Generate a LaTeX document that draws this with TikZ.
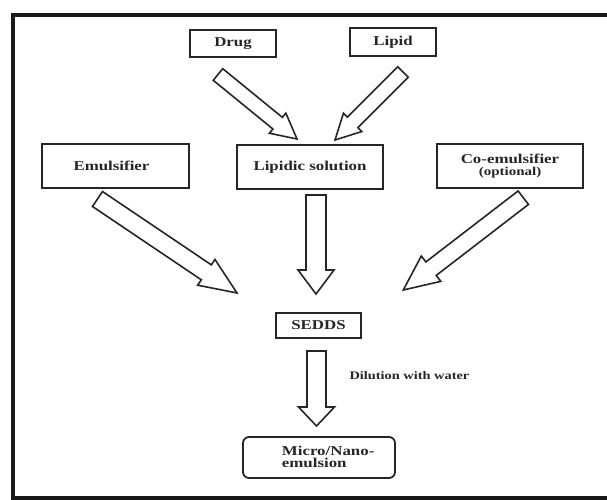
\documentclass[tikz,border=0pt]{standalone}
\usepackage{fontspec}
\setmainfont{Liberation Serif}[FakeStretch=1.25]
\usetikzlibrary{calc}

% hollow block arrow: tail, tip, shaft half-width, head half-width, head length
\newcommand{\blockarrow}[5]{%
  \coordinate (hb) at ($(#2)!#5!(#1)$);
  \draw[fatarrow] ($(#1)!#3!90:(#2)$) -- ($(hb)!#3!90:(#2)$) -- ($(hb)!#4!90:(#2)$)
    -- (#2) -- ($(hb)!#4!-90:(#2)$) -- ($(hb)!#3!-90:(#2)$) -- ($(#1)!#3!-90:(#2)$) -- cycle;
}

\begin{document}
\begin{tikzpicture}[x=1pt,y=-1pt,
  box/.style={draw=black!85, line width=1.8pt, rectangle, inner sep=0pt,
    font=\fontsize{13.5}{15}\selectfont\bfseries, text=black!85, align=center},
  fatarrow/.style={draw=black!85, line width=1.6pt, fill=white, line join=miter},
  small/.style={font=\fontsize{11.5}{13}\selectfont\bfseries, text=black!85}]
\useasboundingbox (0,0) rectangle (607,500);
\clip (0,0) rectangle (607,500);
\fill[white] (0,0) rectangle (607,500);

% outer frame (right side runs off the page)
\draw[line width=4pt, black!90] (13,15) rectangle (640,497.5);

% boxes
\node[box, minimum width=86pt, minimum height=27pt] (drug) at (233,43.5) {Drug};
\node[box, minimum width=86pt, minimum height=28pt] (lipid) at (393,42) {Lipid};
\node[box, minimum width=147pt, minimum height=44pt] (emul) at (115.5,166) {\hspace*{-8pt}Emulsifier};
\node[box, minimum width=146pt, minimum height=44pt] (lipsol) at (310,167) {Lipidic solution};
\node[box, minimum width=146pt, minimum height=44pt] (coemul) at (510,166)
  {Co-emulsifier\\[-3pt]{\fontsize{12}{13}\selectfont (optional)}};
\node[box, minimum width=85pt, minimum height=25pt] (sedds) at (318.5,325.5) {SEDDS};
\node[box, minimum width=152pt, minimum height=41pt, rounded corners=6pt] (micro) at (319,457.5) {};
\node[box, draw=none, anchor=west, align=left] (microtxt) at (281,456.5)
  {Micro/Nano-\\[-3pt]emulsion};

% arrow ends
\coordinate (drugtail) at (218,74.5);   \coordinate (drugtip) at (297,139);
\coordinate (liptail) at (403,72);      \coordinate (liptip) at (335,140);
\coordinate (emtail) at (97.5,199);     \coordinate (emtip) at (237,293);
\coordinate (cotail) at (523.3,197.7);  \coordinate (cotip) at (403.3,290);
\coordinate (soltail) at (316,195);     \coordinate (soltip) at (316,294);
\coordinate (setail) at (316.5,351);    \coordinate (setip) at (316.5,426);

% block arrows
\blockarrow{drugtail}{drugtip}{7.5pt}{13pt}{25pt}
\blockarrow{liptail}{liptip}{7.5pt}{13pt}{25pt}
\blockarrow{emtail}{emtip}{9pt}{15.5pt}{37pt}
\blockarrow{cotail}{cotip}{8.5pt}{16pt}{35pt}
\blockarrow{soltail}{soltip}{10pt}{18pt}{24pt}
\blockarrow{setail}{setip}{9.5pt}{18pt}{19pt}

% label on the dilution step
\node[small, anchor=west] (dil) at (346,376) {Dilution with water};
\end{tikzpicture}
\end{document}
